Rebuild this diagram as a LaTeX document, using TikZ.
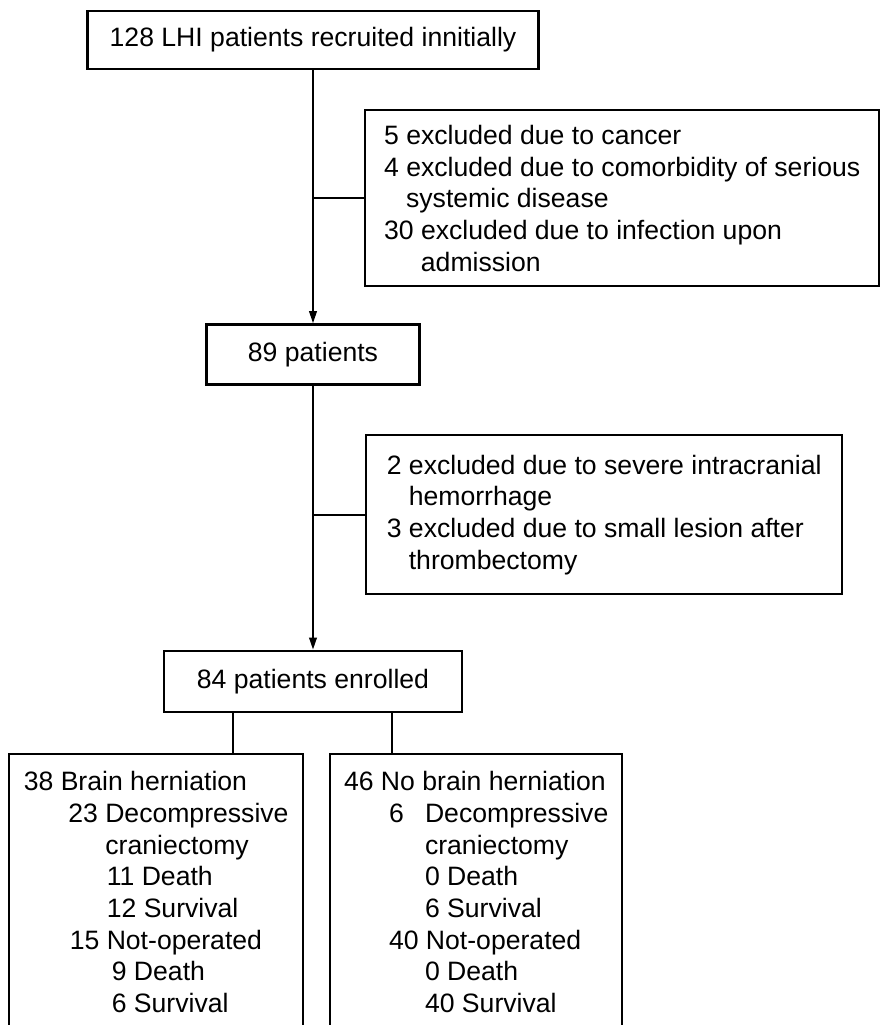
\documentclass[tikz,border=0pt]{standalone}
\usepackage{fontspec}
\setmainfont{Liberation Sans}
\usetikzlibrary{arrows.meta,positioning}

\begin{document}
\begin{tikzpicture}[x=0.5pt,y=-0.5pt,
  font=\fontsize{13.3pt}{15.85pt}\selectfont,
  box/.style={draw,line width=1.2pt,align=center,inner sep=0pt},
  listbox/.style={draw,line width=1.2pt,align=left,inner sep=0pt,anchor=north west},
  arrow/.style={-{Triangle[length=6pt,width=3.8pt]},line width=0.9pt},
  connect/.style={line width=0.9pt}]
\useasboundingbox (0,0) rectangle (880,1025);
\node[box,minimum width=225.5pt,minimum height=29pt](recruited) at (313,40){128 LHI patients recruited innitially};
\node[box,minimum width=106.5pt,minimum height=30pt,below=126.5pt of recruited](screened){89 patients};
\node[box,minimum width=149pt,minimum height=30.5pt,below=132pt of screened](enrolled){84 patients enrolled};
\node[listbox,minimum width=257pt,minimum height=88pt](excluded) at (364,109){5 excluded due to cancer\\
  4 excluded due to comorbidity of serious\\
  \hspace*{11pt}systemic disease\\
  30 excluded due to infection upon\\
  \hspace*{18.4pt}admission};
\node[listbox,minimum width=238pt,minimum height=79.5pt](dropped) at (365,434){2 excluded due to severe intracranial\\
  \hspace*{11pt}hemorrhage\\
  3 excluded due to small lesion after\\
  \hspace*{11pt}thrombectomy};
\node[listbox,minimum width=147pt,minimum height=138pt](herniation) at (8,753){38 Brain herniation\\
  \hspace*{22.25pt}23 Decompressive\\
  \hspace*{40.8pt}craniectomy\\
  \hspace*{41.5pt}11 Death\\
  \hspace*{41.5pt}12 Survival\\
  \hspace*{23pt}15 Not-operated\\
  \hspace*{44pt}9 Death\\
  \hspace*{44pt}6 Survival};
\node[listbox,minimum width=146pt,minimum height=138pt](noherniation) at (329,753){46 No brain herniation\\
  \hspace*{22.5pt}\makebox[18pt][l]{6}Decompressive\\
  \hspace*{40.5pt}craniectomy\\
  \hspace*{40.5pt}0 Death\\
  \hspace*{40.5pt}6 Survival\\
  \hspace*{22.5pt}40 Not-operated\\
  \hspace*{40.5pt}0 Death\\
  \hspace*{40.5pt}40 Survival};
\draw[arrow](recruited)--(screened);
\draw[connect](excluded.west)--(excluded.west-|recruited.south);
\draw[arrow](screened)--(enrolled);
\draw[connect](dropped.west)--(dropped.west-|screened.south);
\draw[connect]([xshift=-40pt]enrolled.south)--([xshift=-40pt]enrolled.south|-herniation.north);
\draw[connect]([xshift=39.5pt]enrolled.south)--([xshift=39.5pt]enrolled.south|-noherniation.north);
\end{tikzpicture}
\end{document}
